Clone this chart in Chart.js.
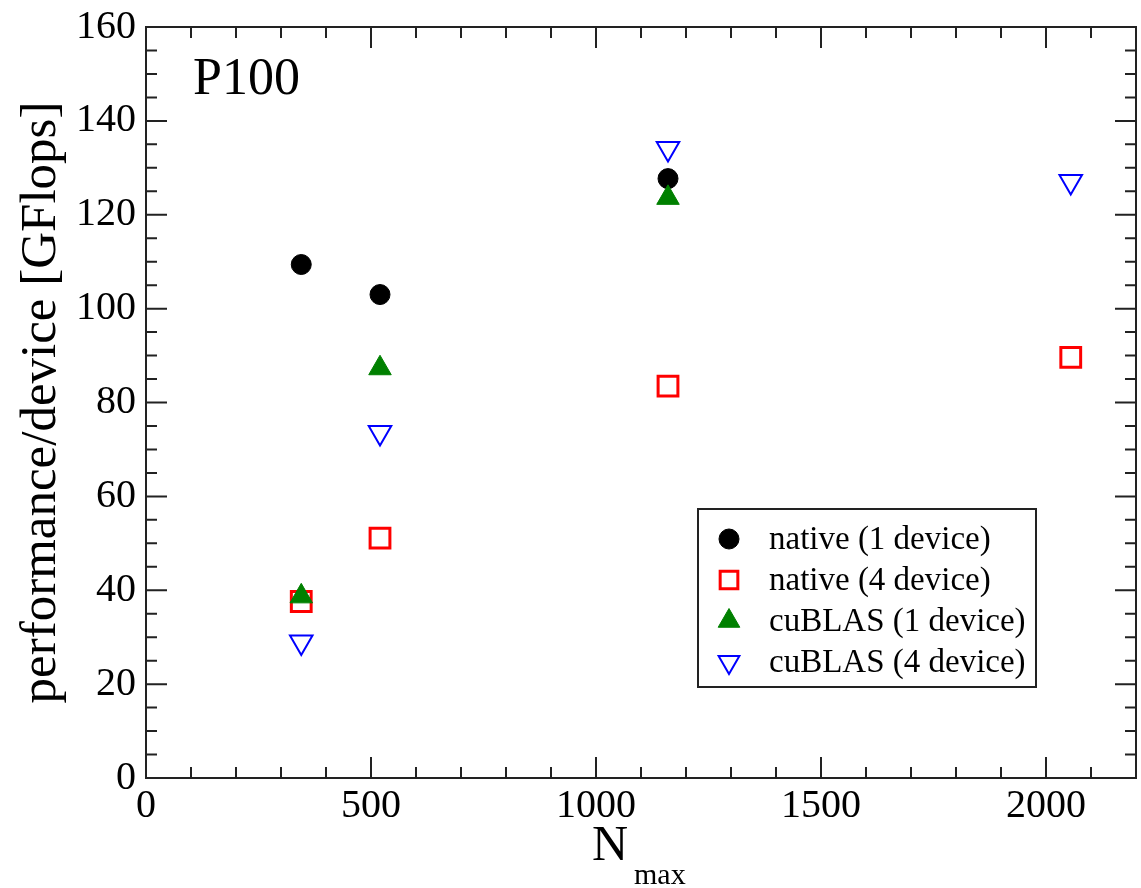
<!DOCTYPE html>
<html>
<head>
<meta charset="utf-8">
<title>P100 performance</title>
<script src="https://cdn.jsdelivr.net/npm/chart.js@4.4.1/dist/chart.umd.min.js"></script>
<style>
  html, body { margin: 0; padding: 0; background: #fff; }
  #wrap { width: 1141px; height: 888px; }
</style>
</head>
<body>
<div id="wrap"><canvas id="grafik" width="1141" height="888"></canvas></div>
<script>
// data
const nmax = [345, 520, 1160, 2055];
const native1 = [109.4, 103.0, 127.7];
const native4 = [37.6, 51.1, 83.5, 89.6];
const cublas1 = [38.7, 87.3, 123.6];
const cublas4 = [29.0, 73.6, 134.1, 127.1];
const labels = ['native (1 device)', 'native (4 device)', 'cuBLAS (1 device)', 'cuBLAS (4 device)'];
const xTicks = [0, 500, 1000, 1500, 2000];
const yTicks = [0, 20, 40, 60, 80, 100, 120, 140, 160];

const SERIF = "'Liberation Serif', 'DejaVu Serif', serif";
Chart.defaults.font.family = SERIF;
Chart.defaults.color = '#000';

function titik(arr) {
    return arr.map((v, i) => ({ x: nmax[i], y: v }));
}

// frame, inward ticks, texts and legend
const hiasan = {
    id: 'hiasan',
    beforeDatasetsDraw(chart) {
        const { ctx, chartArea: a, scales: { x, y } } = chart;
        ctx.save();
        ctx.strokeStyle = '#222';
        ctx.lineWidth = 2;
        ctx.strokeRect(a.left, a.top, a.right - a.left, a.bottom - a.top);
        ctx.beginPath();
        for (let v = 0; v <= 2200; v += 100) {
            const px = x.getPixelForValue(v);
            const len = v % 500 === 0 ? 21 : 11;
            ctx.moveTo(px, a.bottom); ctx.lineTo(px, a.bottom - len);
            ctx.moveTo(px, a.top); ctx.lineTo(px, a.top + len);
        }
        for (let v = 0; v <= 160; v += 5) {
            const py = y.getPixelForValue(v);
            const len = v % 20 === 0 ? 21 : 11;
            ctx.moveTo(a.left, py); ctx.lineTo(a.left + len, py);
            ctx.moveTo(a.right, py); ctx.lineTo(a.right - len, py);
        }
        ctx.stroke();
        ctx.restore();
    },
    afterDraw(chart) {
        const { ctx, chartArea: a } = chart;
        ctx.save();
        ctx.fillStyle = '#000';
        ctx.textAlign = 'left';
        ctx.textBaseline = 'alphabetic';

        // panel label
        ctx.font = '52px ' + SERIF;
        ctx.fillText('P100', 193, 94);

        // x title with subscript
        ctx.font = '50px ' + SERIF;
        ctx.fillText('N', 592, 860);
        ctx.font = '30px ' + SERIF;
        ctx.fillText('max', 634, 884);

        // y title
        ctx.save();
        ctx.translate(55, (a.top + a.bottom) / 2);
        ctx.rotate(-Math.PI / 2);
        ctx.textAlign = 'center';
        ctx.font = '51px ' + SERIF;
        ctx.fillText('performance/device [GFlops]', 0, 0);
        ctx.restore();

        // legend
        ctx.strokeStyle = '#222';
        ctx.lineWidth = 2;
        ctx.strokeRect(698, 509, 338, 178);
        const rows = [539, 580, 621, 662];
        ctx.font = '33px ' + SERIF;
        ctx.textBaseline = 'middle';
        chart.data.datasets.forEach((ds, i) => {
            ctx.save();
            ctx.fillStyle = ds.backgroundColor;
            ctx.strokeStyle = ds.borderColor;
            ctx.lineWidth = ds.borderWidth;
            Chart.helpers.drawPoint(ctx, {
                pointStyle: ds.pointStyle,
                rotation: ds.pointRotation || 0,
                radius: ds.legendRadius,
                borderWidth: ds.borderWidth
            }, 729, rows[i]);
            ctx.restore();
            ctx.fillText(labels[i], 769, rows[i] + 1);
        });
        ctx.restore();
    }
};

const ctx = document.getElementById('grafik').getContext('2d');
new Chart(ctx, {
    type: 'scatter',
    data: {
        datasets: [
            {
                label: labels[0], data: titik(native1), order: 3,
                pointStyle: 'circle', pointRadius: 10, legendRadius: 10,
                backgroundColor: '#000', borderColor: '#000', borderWidth: 1
            },
            {
                label: labels[1], data: titik(native4), order: 2,
                pointStyle: 'rect', pointRadius: 14, legendRadius: 12.5,
                backgroundColor: 'rgba(0,0,0,0)', borderColor: '#ff0000', borderWidth: 3
            },
            {
                label: labels[2], data: titik(cublas1), order: 1,
                pointStyle: 'triangle', pointRadius: 13, legendRadius: 12.5,
                backgroundColor: '#008000', borderColor: '#008000', borderWidth: 1
            },
            {
                label: labels[3], data: titik(cublas4), order: 0,
                pointStyle: 'triangle', pointRotation: 180, pointRadius: 13, legendRadius: 12,
                backgroundColor: 'rgba(0,0,0,0)', borderColor: '#0000ff', borderWidth: 2
            }
        ]
    },
    options: {
        responsive: false,
        animation: false,
        events: [],
        layout: { autoPadding: false, padding: { top: 27, right: 5, left: 0, bottom: 0 } },
        plugins: { legend: { display: false }, tooltip: { enabled: false } },
        scales: {
            x: {
                type: 'linear', min: 0, max: 2200,
                afterBuildTicks: s => { s.ticks = xTicks.map(v => ({ value: v })); },
                afterFit: s => { s.height = 110; s.paddingLeft = 0; s.paddingRight = 0; },
                grid: { display: false, drawTicks: false },
                border: { display: false },
                ticks: { font: { size: 40 }, color: '#000', padding: 4, maxRotation: 0, callback: v => String(v) }
            },
            y: {
                type: 'linear', min: 0, max: 160,
                afterBuildTicks: s => { s.ticks = yTicks.map(v => ({ value: v })); },
                afterFit: s => { s.width = 146; s.paddingTop = 0; s.paddingBottom = 0; },
                grid: { display: false, drawTicks: false },
                border: { display: false },
                ticks: { font: { size: 40 }, color: '#000', padding: 10, callback: v => String(v) }
            }
        }
    },
    plugins: [hiasan]
});
</script>
</body>
</html>
